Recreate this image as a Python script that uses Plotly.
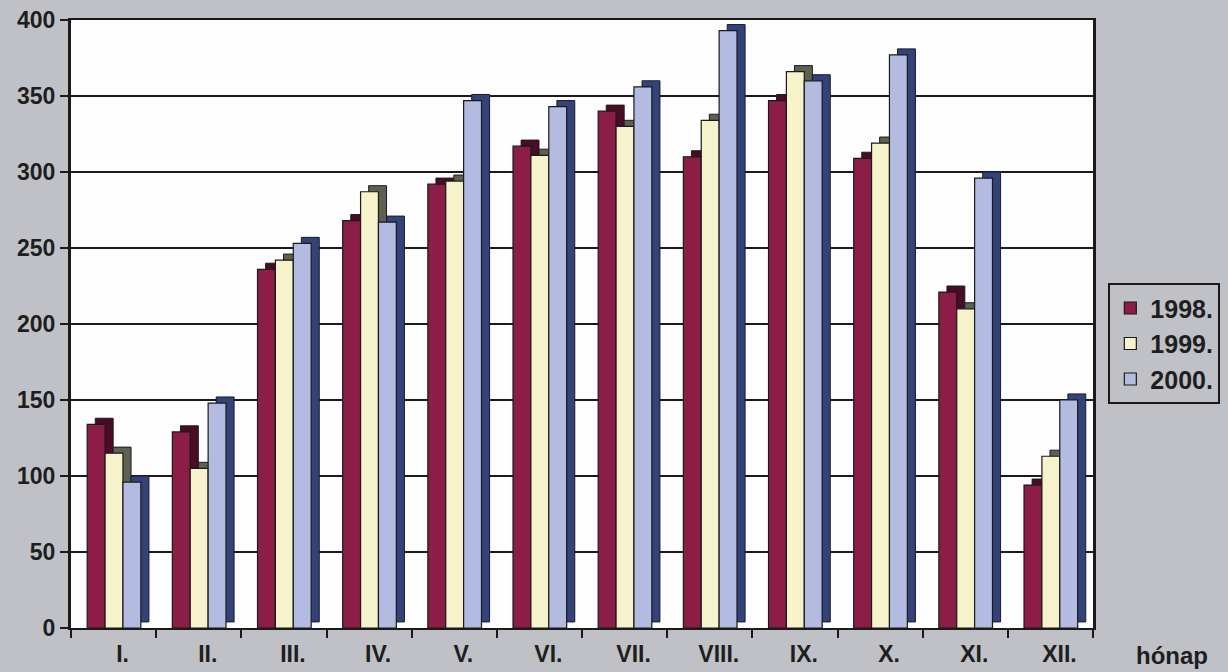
import plotly.graph_objects as go

months = ["I.", "II.", "III.", "IV.", "V.", "VI.", "VII.", "VIII.", "IX.", "X.", "XI.", "XII."]
v1998 = [134, 129, 236, 268, 292, 317, 340, 310, 347, 309, 221, 94]
v1999 = [115, 105, 242, 287, 294, 311, 330, 334, 366, 319, 210, 113]
v2000 = [96, 148, 253, 267, 347, 343, 356, 393, 360, 377, 296, 150]
series_names = ["1998.", "1999.", "2000."]

front_colors = ["#8c1d46", "#f6f2cc", "#b3bbe0"]
side_colors = ["#4a0c22", "#5e6150", "#34427a"]
offsets = [-0.31, -0.10, 0.11]
bar_w = 0.21
depth_x = 0.095
depth_y = 4

fig = go.Figure()
for name, vals, fc, sc, off in zip(series_names, [v1998, v1999, v2000], front_colors, side_colors, offsets):
    fig.add_trace(go.Bar(
        x=months, y=vals, base=depth_y, offset=off + depth_x, width=bar_w,
        marker=dict(color=sc, line=dict(color="#1a1a2a", width=1)),
        showlegend=False, hoverinfo="skip"))
    fig.add_trace(go.Bar(
        x=months, y=vals, offset=off, width=bar_w, name=name,
        marker=dict(color=fc, line=dict(color="#1a1a1a", width=1.2))))

fig.update_layout(
    width=1228, height=672,
    barmode="overlay",
    paper_bgcolor="#c0c1c7",
    plot_bgcolor="#fdfdfd",
    margin=dict(l=71, r=135, t=20, b=44, autoexpand=False),
    font=dict(family="Liberation Sans, Arial, sans-serif", color="#1e1e1e", size=23),
    legend=dict(
        x=1.015, xanchor="left", y=0.567, yanchor="top",
        bgcolor="#c0c1c7", bordercolor="#1a1a1a", borderwidth=2,
        font=dict(size=25, family="Liberation Sans, Arial, sans-serif", weight="bold"),
        itemwidth=30, tracegroupgap=2),
    showlegend=True,
)
fig.update_xaxes(
    type="category", tickson="boundaries", ticks="outside", ticklen=8, tickwidth=2,
    tickcolor="#1a1a1a", showline=True, linecolor="#1a1a1a", linewidth=2, mirror=True,
    showgrid=False, tickfont=dict(size=23, weight="bold"), automargin=False,
    ticklabelstandoff=4, ticklabelshift=9)
fig.update_yaxes(
    range=[0, 400], dtick=50, ticks="outside", ticklen=8, tickwidth=2, tickcolor="#1a1a1a",
    showline=True, linecolor="#1a1a1a", linewidth=3, mirror=True, automargin=False,
    showgrid=True, gridcolor="#1a1a1a", gridwidth=2, zeroline=False,
    tickfont=dict(size=23, weight="bold"))

fig.add_annotation(text="<b>hónap</b>", xref="paper", yref="paper", x=1.077, y=0,
                   xanchor="center", yanchor="top", yshift=-12, showarrow=False,
                   font=dict(size=24))

fig.write_html("out.html")
